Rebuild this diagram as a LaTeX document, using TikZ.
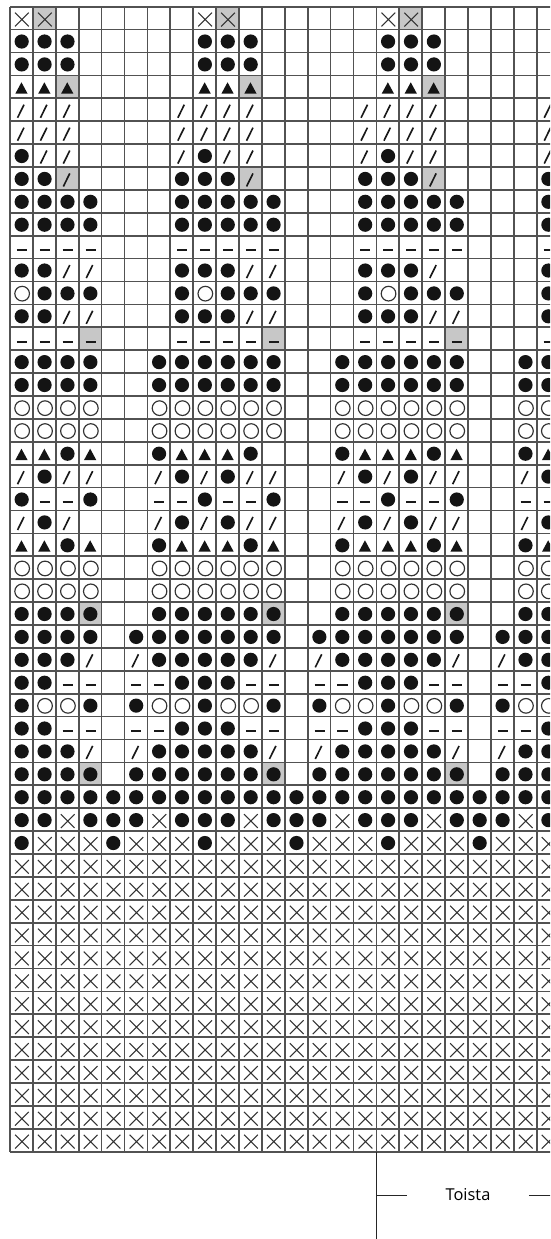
\documentclass[tikz,border=0pt]{standalone}
\usepackage{fontspec}
\setmainfont{Open Sans}

\tikzset{
  gridline/.style={line width=1.4pt, black!68},
  graycell/.style={fill=black!22},
  dotmark/.style={fill=black!92},
  ringmark/.style={draw=black!80, line width=1pt},
  trimark/.style={fill=black!92},
  slashmark/.style={draw=black!90, line width=1.4pt},
  dashmark/.style={draw=black!90, line width=1.8pt},
  crossmark/.style={draw=black!80, line width=0.9pt},
  repeatline/.style={draw=black!85, line width=0.8pt}
}

% one macro per chart symbol, #1 = column, #2 = row
\def\stitche#1#2{}
\def\stitcho#1#2{\fill[dotmark] (#1+.51,#2+.52) circle (.31);}
\def\stitchc#1#2{\draw[ringmark] (#1+.53,#2+.53) circle (.32);}
\def\stitcht#1#2{\fill[trimark] (#1+.23,#2+.8) -- (#1+.77,#2+.8) -- (#1+.5,#2+.3) -- cycle;}
\def\stitchs#1#2{\draw[slashmark] (#1+.33,#2+.85) -- (#1+.61,#2+.28);}
\def\stitchd#1#2{\draw[dashmark] (#1+.3,#2+.63) -- (#1+.74,#2+.63);}
\def\stitchx#1#2{\draw[crossmark] (#1+.22,#2+.26) -- (#1+.82,#2+.86) (#1+.22,#2+.86) -- (#1+.82,#2+.26);}
\def\stitchO#1#2{\fill[graycell] (#1,#2) rectangle (#1+1,#2+1);\stitcho{#1}{#2}}
\def\stitchT#1#2{\fill[graycell] (#1,#2) rectangle (#1+1,#2+1);\stitcht{#1}{#2}}
\def\stitchS#1#2{\fill[graycell] (#1,#2) rectangle (#1+1,#2+1);\stitchs{#1}{#2}}
\def\stitchD#1#2{\fill[graycell] (#1,#2) rectangle (#1+1,#2+1);\stitchd{#1}{#2}}
\def\stitchX#1#2{\fill[graycell] (#1,#2) rectangle (#1+1,#2+1);\stitchx{#1}{#2}}

\begin{document}
\begin{tikzpicture}[x=0.687cm, y=-0.687cm]
    \useasboundingbox (-0.437,-0.293) rectangle (23.581,53.812);
    \clip (-0.437,-0.293) rectangle (23.581,53.812);

    % Pattern rows, top to bottom
    \foreach \rowcells [count=\r from 0] in {
      {x,X,e,e,e,e,e,e,x,X,e,e,e,e,e,e,x,X,e,e,e,e,e,e},
      {o,o,o,e,e,e,e,e,o,o,o,e,e,e,e,e,o,o,o,e,e,e,e,e},
      {o,o,o,e,e,e,e,e,o,o,o,e,e,e,e,e,o,o,o,e,e,e,e,e},
      {t,t,T,e,e,e,e,e,t,t,T,e,e,e,e,e,t,t,T,e,e,e,e,e},
      {s,s,s,e,e,e,e,s,s,s,s,e,e,e,e,s,s,s,s,e,e,e,e,s},
      {s,s,s,e,e,e,e,s,s,s,s,e,e,e,e,s,s,s,s,e,e,e,e,s},
      {o,s,s,e,e,e,e,s,o,s,s,e,e,e,e,s,o,s,s,e,e,e,e,s},
      {o,o,S,e,e,e,e,o,o,o,S,e,e,e,e,o,o,o,S,e,e,e,e,o},
      {o,o,o,o,e,e,e,o,o,o,o,o,e,e,e,o,o,o,o,o,e,e,e,o},
      {o,o,o,o,e,e,e,o,o,o,o,o,e,e,e,o,o,o,o,o,e,e,e,o},
      {d,d,d,d,e,e,e,d,d,d,d,d,e,e,e,d,d,d,d,d,e,e,e,d},
      {o,o,s,s,e,e,e,o,o,o,s,s,e,e,e,o,o,o,s,e,e,e,e,o},
      {c,o,o,o,e,e,e,o,c,o,o,o,e,e,e,o,c,o,o,o,e,e,e,o},
      {o,o,s,s,e,e,e,o,o,o,s,s,e,e,e,o,o,o,s,s,e,e,e,o},
      {d,d,d,D,e,e,e,d,d,d,d,D,e,e,e,d,d,d,d,D,e,e,e,d},
      {o,o,o,o,e,e,o,o,o,o,o,o,e,e,o,o,o,o,o,o,e,e,o,o},
      {o,o,o,o,e,e,o,o,o,o,o,o,e,e,o,o,o,o,o,o,e,e,o,o},
      {c,c,c,c,e,e,c,c,c,c,c,c,e,e,c,c,c,c,c,c,e,e,c,c},
      {c,c,c,c,e,e,c,c,c,c,c,c,e,e,c,c,c,c,c,c,e,e,c,c},
      {t,t,o,t,e,e,o,t,t,t,o,e,e,e,o,t,t,t,o,t,e,e,o,t},
      {s,o,s,s,e,e,s,o,s,o,s,s,e,e,s,o,s,o,s,s,e,e,s,o},
      {o,d,d,o,e,e,d,d,o,d,d,o,e,e,d,d,o,d,d,o,e,e,d,d},
      {s,o,s,e,e,e,s,o,s,o,s,s,e,e,s,o,s,o,s,s,e,e,s,o},
      {t,t,o,t,e,e,o,t,t,t,o,t,e,e,o,t,t,t,o,t,e,e,o,t},
      {c,c,c,c,e,e,c,c,c,c,c,c,e,e,c,c,c,c,c,c,e,e,c,c},
      {c,c,c,c,e,e,c,c,c,c,c,c,e,e,c,c,c,c,c,c,e,e,c,c},
      {o,o,o,O,e,e,o,o,o,o,o,O,e,e,o,o,o,o,o,O,e,e,o,o},
      {o,o,o,o,e,o,o,o,o,o,o,o,e,o,o,o,o,o,o,o,e,o,o,o},
      {o,o,o,s,e,s,o,o,o,o,o,s,e,s,o,o,o,o,o,s,e,s,o,o},
      {o,o,d,d,e,d,d,o,o,o,d,d,e,d,d,o,o,o,d,d,e,d,d,o},
      {o,c,c,o,e,o,c,c,o,c,c,o,e,o,c,c,o,c,c,o,e,o,c,c},
      {o,o,d,d,e,d,d,o,o,o,d,d,e,d,d,o,o,o,d,d,e,d,d,o},
      {o,o,o,s,e,s,o,o,o,o,o,s,e,s,o,o,o,o,o,s,e,s,o,o},
      {o,o,o,O,e,o,o,o,o,o,o,O,e,o,o,o,o,o,o,O,e,o,o,o},
      {o,o,o,o,o,o,o,o,o,o,o,o,o,o,o,o,o,o,o,o,o,o,o,o},
      {o,o,x,o,o,o,x,o,o,o,x,o,o,o,x,o,o,o,x,o,o,o,x,o},
      {o,x,x,x,o,x,x,x,o,x,x,x,o,x,x,x,o,x,x,x,o,x,x,x}}{
      \foreach \st [count=\c from 0] in \rowcells {\csname stitch\st\endcsname{\c}{\r}}
    }

    % Ribbing at the bottom
    \foreach \r in {37,...,49}
      \foreach \c in {0,...,23} {\stitchx{\c}{\r}}

    % Grid
    \foreach \c in {0,...,24} \draw[gridline] (\c,0) -- (\c,50);
    \foreach \r in {0,...,50} \draw[gridline] (0,\r) -- (24,\r);

    % Repeat bracket
    \coordinate (rep top) at (16,50);
    \coordinate (rep bottom) at (16,53.9);
    \coordinate (rep left) at (16,51.89);
    \coordinate (rep right) at (24.2,51.89);
    \node[font=\fontsize{14}{17}\selectfont, inner xsep=1.15cm] (toista) at (20,51.89) {Toista};
    \draw[repeatline] (rep top) -- (rep bottom);
    \draw[repeatline] (rep left) -- (toista.west);
    \draw[repeatline] (toista.east) -- (rep right);
\end{tikzpicture}
\end{document}
